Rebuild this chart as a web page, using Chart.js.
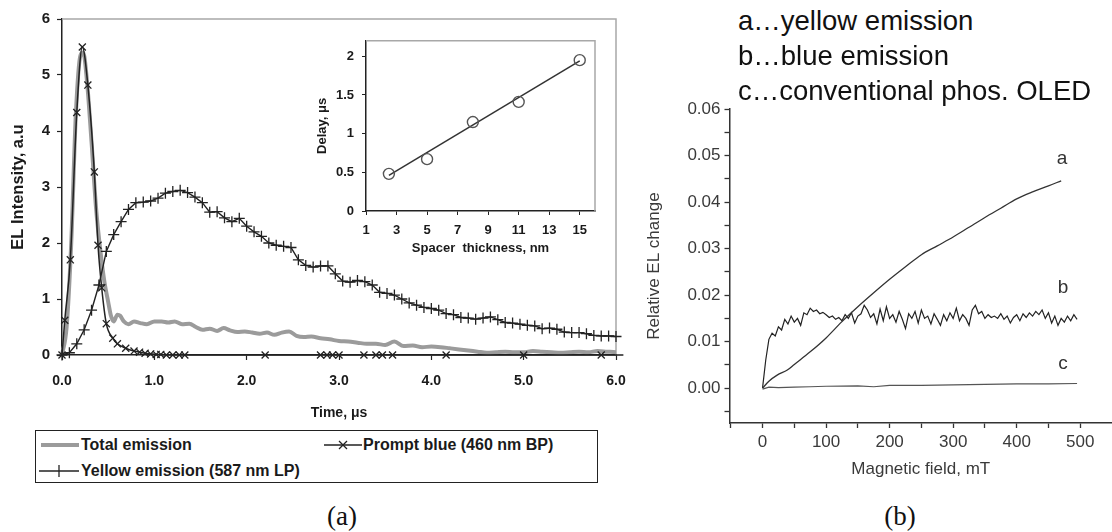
<!DOCTYPE html>
<html><head><meta charset="utf-8">
<script src="https://cdn.jsdelivr.net/npm/chart.js@4.4.1/dist/chart.umd.min.js"></script>
<style>
html,body{margin:0;padding:0;background:#fff;}
#root{position:relative;width:1112px;height:532px;overflow:hidden;font-family:'Liberation Sans',Arial,sans-serif;}
canvas{position:absolute;}
.lg{position:absolute;white-space:nowrap;font-weight:bold;font-size:16px;line-height:18px;color:#1a1a1a;}
.big{position:absolute;white-space:nowrap;font-size:27.5px;line-height:35px;color:#111;left:738px;}
.cap{position:absolute;white-space:nowrap;font-family:'Liberation Serif','DejaVu Serif',serif;font-size:27px;line-height:30px;color:#111;transform:translate(-50%,-50%);}
.lab{position:absolute;white-space:nowrap;font-size:19px;line-height:20px;color:#333;transform:translate(-50%,-50%);}
</style></head><body>
<div id="root">
<canvas id="cMain" width="640" height="430" style="left:0px;top:0px"></canvas>
<canvas id="cInset" width="310" height="235" style="left:300px;top:25px"></canvas>
<canvas id="cRight" width="482" height="390" style="left:630px;top:95px"></canvas>

<div style="position:absolute;left:35px;top:430px;width:563px;height:53px;border:1.5px solid #222;box-sizing:border-box;"></div>
<svg style="position:absolute;left:41px;top:439px" width="38" height="12"><line x1="0" y1="6" x2="38" y2="6" stroke="#9b9b9b" stroke-width="4"/></svg>
<div class="lg" style="left:81px;top:436px">Total emission</div>
<svg style="position:absolute;left:324px;top:439px" width="38" height="12"><line x1="0" y1="6" x2="38" y2="6" stroke="#222" stroke-width="1.5"/><line x1="15" y1="2" x2="23" y2="10" stroke="#222" stroke-width="1.3"/><line x1="15" y1="10" x2="23" y2="2" stroke="#222" stroke-width="1.3"/></svg>
<div class="lg" style="left:363px;top:436px">Prompt blue (460 nm BP)</div>
<svg style="position:absolute;left:39px;top:464px" width="40" height="14"><line x1="0" y1="7" x2="40" y2="7" stroke="#222" stroke-width="1.5"/><line x1="20" y1="1" x2="20" y2="13" stroke="#222" stroke-width="1.3"/></svg>
<div class="lg" style="left:81px;top:462px">Yellow emission (587 nm LP)</div>

<div class="cap" style="left:342px;top:516px">(a)</div>
<div class="cap" style="left:900px;top:516px">(b)</div>

<div class="big" style="top:3px">a…yellow emission</div>
<div class="big" style="top:38px">b…blue emission</div>
<div class="big" style="top:73px">c…conventional phos. OLED</div>

<div class="lab" style="left:1062px;top:158px">a</div>
<div class="lab" style="left:1063px;top:287px">b</div>
<div class="lab" style="left:1063px;top:363px">c</div>
</div>

<script>
// ---------- Panel (a): EL transients ----------
const totalT = [0,0.05,0.1,0.15,0.2,0.23,0.27,0.32,0.37,0.42,0.46,0.5,0.53,0.56,0.6,0.63,0.67,0.72,0.78,0.85,0.92,1.0,1.08,1.15,1.22,1.3,1.38,1.45,1.52,1.6,1.68,1.75,1.82,1.9,1.98,2.06,2.14,2.22,2.3,2.38,2.46,2.54,2.62,2.7,2.8,2.9,3.0,3.1,3.2,3.3,3.4,3.5,3.6,3.7,3.8,3.9,4.0,4.1,4.2,4.3,4.4,4.5,4.6,4.7,4.8,4.9,5.0,5.1,5.2,5.3,5.4,5.5,5.6,5.7,5.8,5.9,6.0,6.08];
const totalV = [0,0.5,2.0,4.3,5.35,5.4,4.9,3.8,2.6,1.8,1.3,0.95,0.7,0.6,0.72,0.7,0.6,0.55,0.6,0.57,0.55,0.6,0.6,0.58,0.6,0.55,0.56,0.5,0.45,0.47,0.43,0.48,0.44,0.41,0.42,0.4,0.38,0.4,0.36,0.4,0.42,0.34,0.32,0.33,0.3,0.28,0.25,0.24,0.22,0.2,0.2,0.18,0.24,0.16,0.17,0.14,0.15,0.14,0.12,0.1,0.08,0.06,0.04,0.05,0.06,0.05,0.05,0.07,0.06,0.05,0.04,0.05,0.06,0.05,0.07,0.06,0.05,0.05];

const blueT = [0,0.03,0.09,0.16,0.22,0.28,0.35,0.39,0.43,0.48,0.55,0.6,0.69,0.78,0.84,0.9,0.96,1.02,1.07,1.13,1.2,1.27,1.33,2.2,2.8,2.87,2.93,3.0,3.27,3.4,3.47,3.58,4.16,5.0,5.84,6.08];
const blueV = [0,0.62,1.7,4.33,5.5,4.82,3.27,1.96,1.2,0.56,0.3,0.2,0.12,0.07,0.05,0.03,0.02,0.01,0.01,0,0,0,0,0,0,0,0,0,0,0,0,0,0,0,0,0];

const yellowT = [0,0.08,0.16,0.24,0.32,0.4,0.48,0.56,0.64,0.72,0.8,0.88,0.96,1.04,1.12,1.2,1.28,1.36,1.44,1.52,1.6,1.68,1.76,1.84,1.92,2,2.08,2.16,2.24,2.32,2.4,2.48,2.56,2.64,2.72,2.8,2.88,2.96,3.04,3.12,3.2,3.28,3.36,3.44,3.52,3.6,3.68,3.76,3.84,3.92,4,4.08,4.16,4.24,4.32,4.4,4.48,4.56,4.64,4.72,4.8,4.88,4.96,5.04,5.12,5.2,5.28,5.36,5.44,5.52,5.6,5.68,5.76,5.84,5.92,6,6.08];
const yellowV = [0,0.04,0.2,0.45,0.8,1.25,1.85,2.15,2.38,2.6,2.72,2.73,2.75,2.8,2.89,2.92,2.94,2.9,2.82,2.72,2.55,2.56,2.45,2.38,2.44,2.3,2.2,2.12,2.0,1.96,1.94,1.92,1.7,1.6,1.57,1.59,1.59,1.45,1.32,1.3,1.33,1.31,1.25,1.12,1.1,1.07,1.0,0.93,0.89,0.85,0.83,0.8,0.74,0.72,0.67,0.66,0.64,0.66,0.68,0.63,0.58,0.57,0.55,0.53,0.52,0.47,0.48,0.46,0.41,0.4,0.4,0.38,0.35,0.34,0.34,0.33,0.31];

const timeTicks = [0,1,2,3,4,5,6];
const intensityTicks = [0,1,2,3,4,5,6];

// ---------- Inset: delay vs spacer thickness ----------
const spacerNm = [2.5,5,8,11,15];
const delayUs = [0.48,0.67,1.15,1.41,1.95];
const fitNm = [2.5,15];
const fitUs = [0.46,1.94];
const spacerTicks = [1,3,5,7,9,11,13,15];
const delayTicks = [0,0.5,1,1.5,2];

// ---------- Panel (b): magnetic field effect ----------
const fieldA = [0,10,23,39,50,75,100,125,150,175,200,225,250,275,300,325,350,375,400,425,450,470];
const relA = [0,0.0015,0.0028,0.0039,0.0051,0.0078,0.0108,0.0143,0.0175,0.0205,0.0234,0.0261,0.0287,0.0306,0.0325,0.0346,0.0367,0.0387,0.0407,0.0422,0.0435,0.0446];

const fieldB = [0,5,10,15,20,25,30,35,40,45,50,55,60,65,70,75,80,85,90,95,100,105,110,115,120,125,130,135,140,145,150,155,160,165,170,175,180,185,190,195,200,205,210,215,220,225,230,235,240,245,250,255,260,265,270,275,280,285,290,295,300,305,310,315,320,325,330,335,340,345,350,355,360,365,370,375,380,385,390,395,400,405,410,415,420,425,430,435,440,445,450,455,460,465,470,475,480,485,490,495];
const relB = [0,0.006,0.0105,0.0118,0.0112,0.0132,0.0125,0.0148,0.0138,0.0155,
  0.0142,0.015,0.0135,0.0162,0.0158,0.0172,0.0165,0.0168,0.016,0.0163,
  0.0158,0.0152,0.0155,0.0148,0.0152,0.0145,0.0158,0.015,0.0162,0.014,
  0.0155,0.016,0.0178,0.0168,0.0152,0.016,0.0138,0.017,0.0145,0.0175,
  0.015,0.0158,0.0142,0.0165,0.0148,0.0128,0.016,0.015,0.0165,0.014,
  0.0168,0.015,0.0155,0.0138,0.016,0.0148,0.0135,0.0158,0.0145,0.0162,
  0.015,0.0172,0.0145,0.0158,0.015,0.0135,0.0168,0.0178,0.016,0.0165,
  0.015,0.0158,0.0152,0.0155,0.015,0.016,0.0148,0.0155,0.014,0.0152,
  0.0158,0.0145,0.016,0.0152,0.0162,0.0155,0.0165,0.0158,0.0168,0.015,
  0.0162,0.014,0.0155,0.0135,0.015,0.0142,0.0155,0.0145,0.0158,0.0148];

const fieldC = [0,10,25,50,75,100,150,175,200,250,300,350,400,450,495];
const relC = [-0.0002,0.0002,0.0001,0.0002,0.0003,0.0004,0.0005,0.0003,0.0006,0.0006,0.0007,0.0008,0.0009,0.0009,0.001];

const fieldTicks = [-50,0,50,100,150,200,250,300,350,400,450,500];
const relTicks = [-0.005,0,0.005,0.01,0.015,0.02,0.025,0.03,0.035,0.04,0.045,0.05,0.055,0.06];

// ---------- helpers ----------
const pts = (xs, ys) => xs.map((x, i) => ({x: x, y: ys[i]}));
const setTicks = arr => s => { s.ticks = arr.map(v => ({value: v})); };
Chart.defaults.font.family = "'Liberation Sans', Arial, sans-serif";

const framePlugin = {
  id: 'frame',
  beforeDatasetsDraw(chart, args, opts) {
    if (!opts || !opts.color) return;
    const {ctx, chartArea: a} = chart;
    ctx.save();
    ctx.strokeStyle = opts.color; ctx.lineWidth = opts.width;
    ctx.beginPath(); ctx.moveTo(a.left, a.top); ctx.lineTo(a.right, a.top); ctx.lineTo(a.right, a.bottom); ctx.stroke();
    ctx.restore();
  }
};

const dark = '#1a1a1a';
const boldF = size => ({size: size, weight: 'bold'});

// Panel (a) main
new Chart(document.getElementById('cMain'), {
  type: 'line',
  data: { datasets: [
    { label: 'Prompt blue (460 nm BP)', data: pts(blueT, blueV), borderColor: '#222', borderWidth: 1.5,
      pointStyle: 'crossRot', pointRadius: c => c.dataIndex === blueT.length - 1 ? 0 : 5, pointBorderColor: '#222', pointBorderWidth: 1.3,
      cubicInterpolationMode: 'monotone', clip: false },
    { label: 'Yellow emission (587 nm LP)', data: pts(yellowT, yellowV), borderColor: '#222', borderWidth: 1.4,
      pointStyle: 'cross', pointRadius: 5.5, pointBorderColor: '#222', pointBorderWidth: 1.3, clip: false },
    { label: 'Total emission', data: pts(totalT, totalV), borderColor: '#9b9b9b', borderWidth: 4, pointRadius: 0,
      cubicInterpolationMode: 'monotone', clip: false }
  ]},
  options: {
    responsive: false, animation: false, devicePixelRatio: 1,
    layout: { padding: { top: 19, right: 24, left: 0, bottom: 0 } },
    plugins: { legend: { display: false }, tooltip: { enabled: false }, frame: { color: '#a8a8a8', width: 1.5 } },
    scales: {
      x: { type: 'linear', min: 0, max: 6,
        afterFit: s => { s.height = 75; }, afterBuildTicks: setTicks(timeTicks),
        ticks: { callback: v => v.toFixed(1), font: boldF(14), color: dark, padding: 13, autoSkip: false, maxRotation: 0 },
        grid: { drawOnChartArea: false, tickLength: 5, tickColor: '#222', tickWidth: 1.2 },
        border: { color: '#222', width: 1.5 },
        title: { display: true, text: 'Time, μs', font: boldF(14), color: dark, padding: { top: 0, bottom: 8 } } },
      y: { type: 'linear', min: 0, max: 6,
        afterFit: s => { s.width = 62; }, afterBuildTicks: setTicks(intensityTicks),
        ticks: { callback: v => String(v), font: boldF(15), color: dark, padding: 7, autoSkip: false },
        grid: { drawOnChartArea: false, tickLength: 5, tickColor: '#222', tickWidth: 1.2 },
        border: { color: '#222', width: 1.5 },
        title: { display: true, text: 'EL Intensity, a.u', font: boldF(16.5), color: dark, padding: { top: 9, bottom: 0 } } }
    }
  },
  plugins: [framePlugin]
});

// Inset
new Chart(document.getElementById('cInset'), {
  type: 'line',
  data: { datasets: [
    { label: 'Measured delay', data: pts(spacerNm, delayUs), showLine: false, pointStyle: 'circle', pointRadius: 5.5,
      pointBorderColor: '#555', pointBorderWidth: 1.4, pointBackgroundColor: 'rgba(255,255,255,0)' },
    { label: 'Linear fit', data: pts(fitNm, fitUs), borderColor: '#333', borderWidth: 1.5, pointRadius: 0 }
  ]},
  options: {
    responsive: false, animation: false, devicePixelRatio: 1,
    layout: { padding: { top: 8, right: 15, left: 0, bottom: 0 } },
    plugins: { legend: { display: false }, tooltip: { enabled: false }, frame: { color: '#a8a8a8', width: 1.5 } },
    scales: {
      x: { type: 'linear', min: 1, max: 16,
        afterFit: s => { s.height = 49; }, afterBuildTicks: setTicks(spacerTicks),
        ticks: { callback: v => String(v), font: boldF(13), color: dark, padding: 8, autoSkip: false, maxRotation: 0 },
        grid: { drawOnChartArea: false, tickLength: 4, tickColor: '#222' },
        border: { color: '#222', width: 1.5 },
        title: { display: true, text: 'Spacer  thickness, nm', font: boldF(13), color: dark, padding: { top: 0, bottom: 4 } } },
      y: { type: 'linear', min: 0, max: 2.2,
        afterFit: s => { s.width = 66; }, afterBuildTicks: setTicks(delayTicks),
        ticks: { callback: v => String(v), font: boldF(13), color: dark, padding: 8, autoSkip: false },
        grid: { drawOnChartArea: false, tickLength: 4, tickColor: '#222' },
        border: { color: '#222', width: 1.5 },
        title: { display: true, text: 'Delay, μs', font: boldF(13), color: dark, padding: { top: 15, bottom: 0 } } }
    }
  },
  plugins: [framePlugin]
});

// Panel (b)
const gcol = '#3a3a3a';
new Chart(document.getElementById('cRight'), {
  type: 'line',
  data: { datasets: [
    { label: 'a', data: pts(fieldA, relA), borderColor: '#333', borderWidth: 1.3, pointRadius: 0, cubicInterpolationMode: 'monotone' },
    { label: 'b', data: pts(fieldB, relB), borderColor: '#222', borderWidth: 1.2, pointRadius: 0 },
    { label: 'c', data: pts(fieldC, relC), borderColor: '#555', borderWidth: 1.2, pointRadius: 0 }
  ]},
  options: {
    responsive: false, animation: false, devicePixelRatio: 1,
    layout: { padding: { top: 13, right: 0, left: 0, bottom: 0 } },
    plugins: { legend: { display: false }, tooltip: { enabled: false } },
    scales: {
      x: { type: 'linear', min: -52, max: 550,
        afterFit: s => { s.height = 62; }, afterBuildTicks: setTicks(fieldTicks),
        ticks: { callback: v => (v % 100 === 0 ? String(v) : ''), font: { size: 17 }, color: gcol, padding: 4, autoSkip: false, maxRotation: 0 },
        grid: { drawOnChartArea: false, tickLength: 5, tickColor: '#333', tickWidth: 1.3 },
        border: { color: '#333', width: 1.5 },
        title: { display: true, text: 'Magnetic field, mT', font: { size: 17 }, color: gcol, padding: { top: 0, bottom: 5 } } },
      y: { type: 'linear', min: -0.0075, max: 0.06,
        afterFit: s => { s.width = 99.5; }, afterBuildTicks: setTicks(relTicks),
        ticks: { callback: v => (Math.abs(v * 100 - Math.round(v * 100)) < 1e-6 ? v.toFixed(2) : ''), font: { size: 17 }, color: gcol, padding: 4, autoSkip: false },
        grid: { drawOnChartArea: false, tickLength: 5, tickColor: '#333', tickWidth: 1.3 },
        border: { color: '#333', width: 1.5 },
        title: { display: true, text: 'Relative EL change', font: { size: 17 }, color: gcol, padding: { top: 14, bottom: 0 } } }
    }
  }
});
</script>
</body></html>
